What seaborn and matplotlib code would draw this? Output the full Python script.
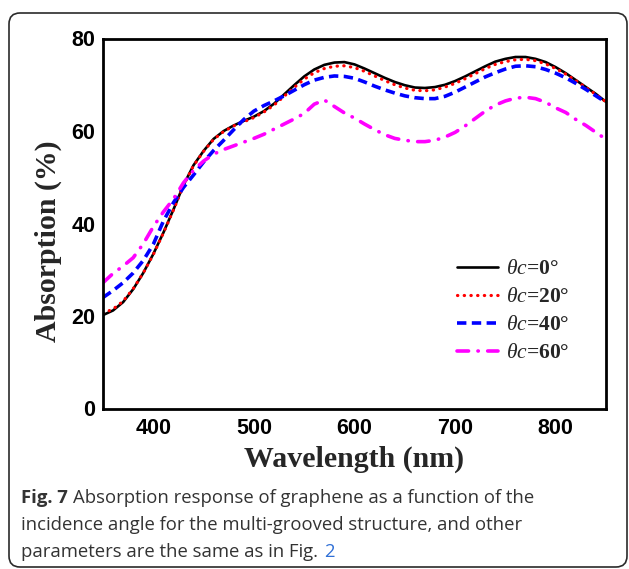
import matplotlib
matplotlib.use("Agg")
import matplotlib.pyplot as plt
import seaborn as sns
import pandas as pd
from matplotlib.patches import FancyBboxPatch
from matplotlib.ticker import MultipleLocator
from matplotlib.transforms import IdentityTransform

wavelength = list(range(350, 851, 10))
abs_0 = [20.2, 21.2, 23.0, 25.8, 29.3, 33.4, 38.0, 43.0, 48.3, 52.6, 55.7, 58.3, 60.0, 61.2, 62.2,
         63.1, 64.3, 65.9, 67.9, 69.9, 71.8, 73.3, 74.3, 74.8, 74.9, 74.4, 73.5, 72.5, 71.5, 70.6,
         69.9, 69.4, 69.3, 69.5, 70.0, 70.8, 71.8, 72.9, 74.0, 75.0, 75.6, 76.0, 76.0, 75.6, 74.9,
         73.8, 72.5, 71.0, 69.5, 68.0, 66.3]
abs_20 = [20.6, 21.5, 23.2, 25.9, 29.3, 33.3, 37.9, 42.9, 48.2, 52.5, 55.6, 58.2, 59.9, 61.1, 62.0,
          62.9, 64.1, 65.6, 67.5, 69.4, 71.2, 72.6, 73.5, 74.0, 74.1, 73.7, 72.9, 71.9, 70.9, 70.0,
          69.3, 68.8, 68.7, 68.9, 69.5, 70.3, 71.3, 72.4, 73.5, 74.4, 75.0, 75.4, 75.5, 75.2, 74.5,
          73.5, 72.3, 70.9, 69.4, 67.9, 66.3]
abs_40 = [24.0, 25.5, 27.2, 29.3, 32.0, 35.5, 40.5, 44.5, 47.8, 50.5, 53.3, 55.8, 58.0, 60.3, 62.5,
          64.3, 65.5, 66.5, 67.6, 68.8, 70.0, 71.0, 71.6, 71.9, 71.8, 71.4, 70.6, 69.7, 68.9, 68.2,
          67.6, 67.2, 67.0, 67.0, 67.5, 68.4, 69.5, 70.6, 71.7, 72.6, 73.4, 74.0, 74.1, 73.9, 73.3,
          72.5, 71.5, 70.3, 69.0, 67.6, 66.2]
abs_60 = [27.2, 29.2, 30.8, 32.6, 35.6, 39.3, 42.5, 45.3, 48.8, 51.5, 53.5, 55.0, 56.0, 56.8, 57.6,
          58.4, 59.3, 60.4, 61.5, 62.6, 63.8, 65.8, 66.7, 65.3, 63.9, 62.8, 61.5, 60.3, 59.2, 58.4,
          58.0, 57.7, 57.7, 58.0, 58.7, 59.7, 61.1, 62.7, 64.3, 65.6, 66.5, 67.1, 67.3, 67.0, 66.2,
          65.0, 64.0, 62.5, 61.2, 59.7, 58.2]
labels = [r"$\theta c$=0°", r"$\theta c$=20°", r"$\theta c$=40°", r"$\theta c$=60°"]
colors = ["black", "#ff0000", "#0000ff", "#ff00ff"]
x_ticks = [400, 500, 600, 700, 800]
y_ticks = [0, 20, 40, 60, 80]

sns.set_theme(style="white")
plt.rcParams["font.family"] = ["Liberation Sans", "DejaVu Sans"]
plt.rcParams["mathtext.fontset"] = "custom"
plt.rcParams["mathtext.it"] = "Liberation Serif:italic"
plt.rcParams["mathtext.rm"] = "Liberation Serif"
plt.rcParams["mathtext.bf"] = "Liberation Serif:bold"

W, H = 629, 569
fig = plt.figure(figsize=(W / 100, H / 100), dpi=100)
ax = fig.add_axes([103 / W, (H - 408.5) / H, (606 - 103) / W, (408.5 - 38.5) / H])

series = [abs_0, abs_20, abs_40, abs_60]
styles = [
    dict(linestyle="-", lw=1.9),
    dict(linestyle=(0, (0.1, 2.0)), lw=2.3, dash_capstyle="round"),
    dict(linestyle=(0, (2.6, 1.5)), lw=2.6, dash_capstyle="butt"),
    dict(linestyle=(0, (3.2, 2.6, 0.1, 2.6)), lw=2.6, dash_capstyle="round"),
]
for vals, lab, col, st in zip(series, labels, colors, styles):
    df = pd.DataFrame({"wl": wavelength, "a": vals})
    sns.lineplot(data=df, x="wl", y="a", color=col, label=lab, ax=ax, **st)

ax.set_xlim(350, 850)
ax.set_ylim(0, 80)
ax.set_xticks(x_ticks)
ax.set_yticks(y_ticks)
ax.xaxis.set_minor_locator(MultipleLocator(50))
ax.yaxis.set_minor_locator(MultipleLocator(10))
ax.tick_params(which="both", direction="in", width=1.6, colors="black")
ax.tick_params(which="major", length=6.5)
ax.tick_params(which="minor", length=4)
ax.tick_params(axis="y", which="major", pad=5.5, labelsize=15.5)
ax.tick_params(axis="x", which="major", pad=7, labelsize=15.5)
for t in ax.get_xticklabels() + ax.get_yticklabels():
    t.set_fontweight("bold")
    t.set_family(["Liberation Sans", "DejaVu Sans"])
for s in ax.spines.values():
    s.set_linewidth(2.0)
    s.set_color("black")

ax.set_xlabel("Wavelength (nm)", fontsize=21.5, fontweight="bold",
              family=["Liberation Serif", "DejaVu Serif"], labelpad=5)
ax.set_ylabel("Absorption (%)", fontsize=21.5, fontweight="bold",
              family=["Liberation Serif", "DejaVu Serif"])
ax.yaxis.set_label_coords(-0.082, 0.453)

leg = ax.legend(loc="center left", bbox_to_anchor=(0.704, 0.263), frameon=False,
                prop=dict(family=["Liberation Serif", "DejaVu Serif"], weight="bold", size=15.5),
                handlelength=1.9, handletextpad=0.35, labelspacing=0.37, borderpad=0,
                borderaxespad=0)

# Border
box = FancyBboxPatch((9, 2), 618, 554, boxstyle="round,pad=0,rounding_size=11",
                     transform=IdentityTransform(), fill=False, edgecolor="#2a2a2a",
                     linewidth=1.2, zorder=10)
fig.patches.append(box)

# Caption
cap_font = ["Open Sans", "DejaVu Sans"]
cap_size = 13.3
cap_color = "#333333"
renderer = fig.canvas.get_renderer()

def px(x, y):
    return x / W, (H - y) / H

x0 = 21
t1 = fig.text(*px(x0, 503), "Fig. 7", family=cap_font, fontweight="bold", fontsize=cap_size,
              color=cap_color, va="baseline")
bb = t1.get_window_extent(renderer)
fig.text(bb.x1 / W + 5 / W, (H - 503) / H,
         "Absorption response of graphene as a function of the",
         family=cap_font, fontsize=cap_size, color=cap_color, va="baseline")
fig.text(*px(x0, 530), "incidence angle for the multi-grooved structure, and other",
         family=cap_font, fontsize=cap_size, color=cap_color, va="baseline")
t3 = fig.text(*px(x0, 557), "parameters are the same as in Fig. ",
              family=cap_font, fontsize=cap_size, color=cap_color, va="baseline")
bb3 = t3.get_window_extent(renderer)
fig.text(bb3.x1 / W + 1 / W, (H - 557) / H, "2", family=cap_font, fontsize=cap_size,
         color="#2f6fd6", va="baseline")

fig.savefig("out.png", dpi=100)
